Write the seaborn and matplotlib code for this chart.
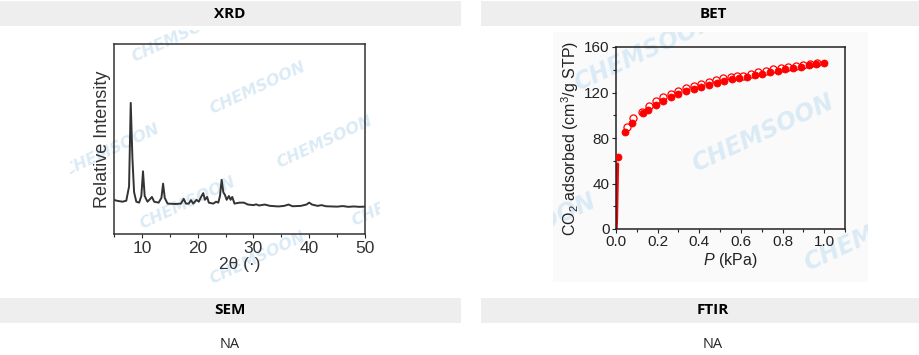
import matplotlib
matplotlib.use("Agg")
import matplotlib.pyplot as plt
from matplotlib.patches import Rectangle
from matplotlib.ticker import MultipleLocator
import numpy as np
import pandas as pd
import seaborn as sns

# --- data ---
xrd_two_theta = [5.0, 5.5, 6.5, 7.2, 7.7, 8.0, 8.3, 8.6, 9.0, 9.5, 9.9, 10.2, 10.5, 11.0,
                 11.5, 11.8, 12.2, 13.0, 13.5, 13.8, 14.1, 14.6, 16.0, 17.0, 17.5, 17.9,
                 18.4, 18.8, 19.2, 19.8, 20.2, 20.7, 21.0, 21.3, 21.7, 22.0, 22.8, 23.3,
                 23.7, 24.0, 24.3, 24.6, 24.9, 25.2, 25.6, 25.9, 26.2, 26.6, 27.5, 28.3,
                 29.0, 30.0, 30.5, 31.0, 32.0, 33.0, 34.5, 35.5, 36.3, 37.0, 38.5, 39.5,
                 40.0, 40.5, 41.5, 42.2, 43.0, 45.0, 46.0, 47.0, 48.0, 49.0, 50.0]
xrd_intensity = [18.0, 17.5, 17.0, 17.5, 25.0, 69.0, 40.0, 22.0, 17.0, 16.5, 20.0, 33.0, 20.0, 17.0,
                 18.5, 19.5, 17.0, 16.5, 19.0, 26.5, 19.0, 16.0, 15.8, 16.0, 18.5, 16.0,
                 16.0, 17.8, 16.0, 18.0, 17.0, 20.0, 21.5, 18.0, 19.5, 16.5, 16.0, 17.0,
                 16.5, 20.0, 28.5, 22.0, 20.5, 18.0, 20.0, 18.0, 19.5, 16.0, 16.5, 16.5,
                 15.5, 15.2, 15.6, 15.0, 15.5, 14.8, 14.5, 14.8, 15.5, 14.6, 14.8, 15.5,
                 16.5, 15.5, 14.8, 15.2, 14.6, 14.4, 14.7, 14.3, 14.5, 14.3, 14.4]

# steep low-pressure uptake (drawn as a thick red line)
bet_low_p = [0.0, 0.002, 0.003, 0.004, 0.005, 0.006, 0.007]
bet_low_q = [0.0, 10.0, 20.0, 30.0, 40.0, 50.0, 57.0]

bet_ads_p = [0.011, 0.043, 0.078, 0.128, 0.154, 0.19, 0.227, 0.264, 0.30, 0.338, 0.373,
             0.41, 0.447, 0.484, 0.52, 0.558, 0.593, 0.628, 0.668, 0.703, 0.74, 0.777,
             0.812, 0.852, 0.889, 0.925, 0.962, 0.997]
bet_ads_q = [63.6, 85.3, 93.5, 102.0, 104.6, 109.0, 112.5, 116.0, 119.0, 121.3, 123.0,
             125.0, 126.6, 128.0, 130.0, 131.9, 133.0, 134.0, 135.4, 136.5, 138.0, 139.2,
             140.7, 141.5, 142.7, 143.9, 144.8, 146.2]

bet_des_p = [0.051, 0.083, 0.123, 0.159, 0.19, 0.227, 0.264, 0.30, 0.337, 0.373, 0.409,
             0.446, 0.481, 0.516, 0.551, 0.583, 0.612, 0.647, 0.684, 0.72, 0.756, 0.792,
             0.828, 0.864, 0.897, 0.933, 0.965]
bet_des_q = [89.4, 97.6, 103.0, 108.4, 112.5, 115.8, 118.7, 121.3, 123.7, 125.7, 127.5,
             129.0, 130.7, 132.5, 133.6, 134.8, 134.5, 136.3, 137.8, 138.9, 140.4, 141.5,
             142.7, 143.3, 144.2, 145.0, 145.7]

headers_top = ["XRD", "BET"]
headers_bottom = ["SEM", "FTIR"]
na_text = "NA"

W, H = 919, 355
sns.set_theme(style="ticks")
plt.rcParams["font.family"] = ["Liberation Sans", "DejaVu Sans"]
plt.rcParams["mathtext.fontset"] = "custom"
plt.rcParams["mathtext.rm"] = "Liberation Sans"
plt.rcParams["mathtext.it"] = "Liberation Sans:italic"

fig = plt.figure(figsize=(W / 100, H / 100), dpi=100)
fig.patch.set_facecolor("white")


def box(x0, y0, x1, y1):
    return [x0 / W, 1 - y1 / H, (x1 - x0) / W, (y1 - y0) / H]


def header(x0, y0, x1, y1, label, cx):
    fig.add_artist(Rectangle((x0 / W, 1 - y1 / H), (x1 - x0) / W, (y1 - y0) / H,
                             transform=fig.transFigure, facecolor="#eeeeee",
                             edgecolor="none", zorder=0))
    fig.text(cx / W, 1 - (y0 + y1) / 2 / H, label, ha="center", va="center",
             fontsize=11, fontweight="bold", color="black", family=["Open Sans", "DejaVu Sans"])


header(0, 1, 461, 26, headers_top[0], 230)
header(481, 1, 945, 26, headers_top[1], 713)
header(0, 298, 461, 323, headers_bottom[0], 230)
header(481, 298, 945, 323, headers_bottom[1], 713)
fig.text(230 / W, 1 - 345 / H, na_text, ha="center", va="center", fontsize=10.5,
         family=["Open Sans", "DejaVu Sans"])
fig.text(713 / W, 1 - 345 / H, na_text, ha="center", va="center", fontsize=10.5,
         family=["Open Sans", "DejaVu Sans"])


def watermark_panel(x0, y0, x1, y1, spots, size, face):
    bg = fig.add_axes(box(x0, y0, x1, y1))
    bg.set_xlim(x0, x1)
    bg.set_ylim(y1, y0)
    bg.set_facecolor(face)
    for s in bg.spines.values():
        s.set_visible(False)
    bg.set_xticks([])
    bg.set_yticks([])
    for (cx, cy) in spots:
        bg.text(cx, cy, "CHEMSOON", rotation=25, ha="center", va="center",
                fontsize=size, fontweight="bold", fontstyle="italic",
                color="#dbebf6", clip_on=True, family="DejaVu Sans")
    return bg


# ---------------- XRD panel ----------------
watermark_panel(70, 30, 380, 285,
                [(180, 36), (258, 88), (325, 142), (112, 150), (188, 203), (400, 200), (258, 258)],
                11.5, "white")
ax1 = fig.add_axes(box(114, 44, 365, 234))
ax1.patch.set_alpha(0)
xrd = pd.DataFrame({"two_theta": xrd_two_theta, "intensity": xrd_intensity})
sns.lineplot(data=xrd, x="two_theta", y="intensity", ax=ax1, color="#333333", linewidth=1.4)
ax1.set_xlim(5, 50)
ax1.set_ylim(0, 100)
ax1.set_yticks([])
ax1.xaxis.set_major_locator(MultipleLocator(10))
ax1.xaxis.set_minor_locator(MultipleLocator(5))
ax1.tick_params(axis="x", which="major", direction="out", length=3, width=0.8,
                labelsize=12.5, labelcolor="#333333", pad=2)
ax1.tick_params(axis="x", which="minor", direction="out", length=2, width=0.8)
ax1.set_xlabel("2θ (·)", fontsize=12.5, color="#333333", labelpad=1)
ax1.set_ylabel("Relative Intensity", fontsize=13, color="#333333", labelpad=2)
for s in ax1.spines.values():
    s.set_linewidth(1.1)
    s.set_color("#333333")

# ---------------- BET panel ----------------
watermark_panel(553, 32, 868, 282,
                [(645, 52), (763, 133), (525, 232), (875, 232)],
                17, "#fafafa")
ax2 = fig.add_axes(box(616, 47, 845, 229))
ax2.patch.set_alpha(0)
low = pd.DataFrame({"p": bet_low_p, "q": bet_low_q})
ads = pd.DataFrame({"p": bet_ads_p, "q": bet_ads_q})
des = pd.DataFrame({"p": bet_des_p, "q": bet_des_q})
sns.lineplot(data=low, x="p", y="q", ax=ax2, color="red", linewidth=2.5)
sns.scatterplot(data=des, x="p", y="q", ax=ax2, marker="o", s=26,
                facecolor="white", edgecolor="red", linewidth=0.9, zorder=3)
sns.scatterplot(data=ads, x="p", y="q", ax=ax2, marker="o", s=26,
                color="red", edgecolor="red", linewidth=0.5, zorder=4)
ax2.set_xlim(0, 1.1)
ax2.set_ylim(0, 160)
ax2.xaxis.set_major_locator(MultipleLocator(0.2))
ax2.xaxis.set_minor_locator(MultipleLocator(0.1))
ax2.yaxis.set_major_locator(MultipleLocator(40))
ax2.yaxis.set_minor_locator(MultipleLocator(20))
ax2.set_xticklabels([f"{v:.1f}" for v in ax2.get_xticks()])
ax2.tick_params(which="major", direction="out", length=3, width=0.8, labelsize=11,
                labelcolor="#222222", pad=1.5)
ax2.tick_params(which="minor", direction="out", length=2, width=0.8)
ax2.set_xlabel("$P$ (kPa)", fontsize=11.5, color="#222222", labelpad=1)
ax2.set_ylabel("CO$_2$ adsorbed (cm$^3$/g STP)", fontsize=11.5, color="#222222", labelpad=2)
for s in ax2.spines.values():
    s.set_linewidth(1.1)
    s.set_color("#222222")

fig.savefig("out.png", dpi=100)
